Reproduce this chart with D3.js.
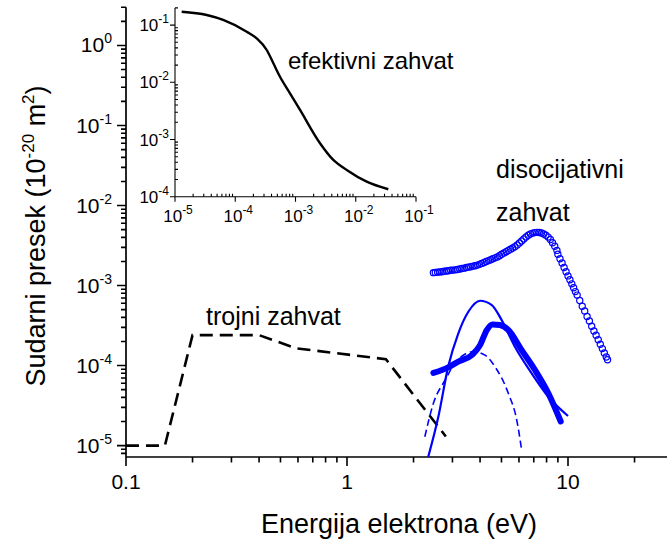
<html>
<head>
<meta charset="utf-8">
<title>Sudarni presek</title>
<script src="https://d3js.org/d3.v7.min.js"></script>
<style>
  body { margin: 0; background: #fff; }
  svg { font-family: "Liberation Sans", Arial, sans-serif; }
</style>
</head>
<body>
<div id="chart"></div>
<script>
// trojni zahvat (dashed black)
var trojniE = [0.1, 0.15, 0.2, 0.4, 0.59, 1.5, 2.8];
var trojniS = [1e-5, 1e-5, 2.4e-4, 2.4e-4, 1.64e-4, 1.2e-4, 1.3e-5];

// disocijativni zahvat - open circles
var disE = [2.46,2.51,2.57,2.63,2.69,2.75,2.82,2.88,2.95,3.02,3.09,3.16,3.24,3.31,3.39,3.47,3.55,3.63,3.72,3.80,
  3.89,3.98,4.07,4.17,4.27,4.37,4.47,4.57,4.68,4.79,4.90,5.01,5.13,5.25,5.37,5.50,5.62,5.75,5.89,6.03,
  6.17,6.31,6.46,6.61,6.76,6.92,7.08,7.24,7.41,7.59,7.76,7.94,8.13,8.32,8.51,8.71,8.91,
  9.0,9.2,9.4,9.6,9.8,10.0,10.2,10.4,10.6,10.8,11.0,11.3,11.6,11.9,12.2,12.5,12.8,13.1,13.4,13.7,14.0,14.3,14.6,14.9,15.1];
var disS = [1.45e-3,1.46e-3,1.47e-3,1.48e-3,1.49e-3,1.51e-3,1.52e-3,1.53e-3,1.55e-3,1.56e-3,1.57e-3,1.59e-3,1.61e-3,1.63e-3,1.65e-3,1.68e-3,1.70e-3,1.72e-3,1.75e-3,1.77e-3,
  1.80e-3,1.84e-3,1.89e-3,1.94e-3,2.00e-3,2.05e-3,2.10e-3,2.16e-3,2.22e-3,2.28e-3,2.36e-3,2.46e-3,2.55e-3,2.64e-3,2.75e-3,2.85e-3,2.95e-3,3.06e-3,3.22e-3,3.41e-3,
  3.61e-3,3.82e-3,4.04e-3,4.25e-3,4.41e-3,4.52e-3,4.59e-3,4.62e-3,4.61e-3,4.54e-3,4.42e-3,4.25e-3,4.03e-3,3.76e-3,3.43e-3,3.1e-3,2.75e-3,
  2.46e-3,2.16e-3,1.91e-3,1.68e-3,1.49e-3,1.32e-3,1.18e-3,1.05e-3,9.4e-4,8.4e-4,7.6e-4,6.5e-4,5.5e-4,4.8e-4,4.1e-4,3.6e-4,3.1e-4,2.7e-4,2.4e-4,2.1e-4,1.85e-4,1.63e-4,1.44e-4,1.28e-4,1.18e-4];

// thick blue curve
var thickE = [2.46, 2.87, 3.19, 3.67, 4.0, 4.29, 4.55, 4.92, 5.37, 6.17, 7.09, 8.15, 9.27];
var thickS = [8.1e-5, 9.5e-5, 1.12e-4, 1.35e-4, 1.8e-4, 2.78e-4, 3.27e-4, 3.21e-4, 2.78e-4, 1.56e-4, 8.8e-5, 4.5e-5, 2.0e-5];

// thin solid blue curve
var solE = [2.33, 2.59, 2.87, 3.19, 3.54, 4.0, 4.52, 5.01, 5.75, 6.85, 8.15, 10.0];
var solS = [7.2e-6, 2.29e-5, 9.7e-5, 2.53e-4, 4.7e-4, 6.46e-4, 5.7e-4, 3.7e-4, 1.72e-4, 8.0e-5, 4.07e-5, 2.34e-5];

// thin dashed blue curve
var dashE = [2.25, 2.46, 2.78, 3.08, 3.73, 4.21, 4.67, 5.37, 5.86, 6.17];
var dashS = [1.29e-5, 3.37e-5, 6.6e-5, 1.07e-4, 1.49e-4, 1.35e-4, 9.7e-5, 4.5e-5, 2.1e-5, 8.8e-6];

// inset: efektivni zahvat
var efE = [1.29e-5, 3.36e-5, 6.3e-5, 1.55e-4, 2.27e-4, 3.33e-4, 4.29e-4, 5.53e-4, 8.1e-4, 1.19e-3, 2.55e-3, 4.24e-3, 7.08e-3, 1.52e-2, 3.47e-2];
var efS = [0.171, 0.150, 0.123, 0.0767, 0.0587, 0.0367, 0.0215, 0.0125, 6.43e-3, 3.28e-3, 8.6e-4, 4.39e-4, 2.93e-4, 1.83e-4, 1.35e-4];

var mainXTicks = [0.1, 1, 10];
var mainXLabels = ["0.1", "1", "10"];
var mainYTicks = [1e-5, 1e-4, 1e-3, 1e-2, 1e-1, 1];
var mainYExp = ["-5", "-4", "-3", "-2", "-1", "0"];
var insXTicks = [1e-5, 1e-4, 1e-3, 1e-2, 1e-1];
var insXExp = ["-5", "-4", "-3", "-2", "-1"];
var insYTicks = [1e-4, 1e-3, 1e-2, 1e-1];
var insYExp = ["-4", "-3", "-2", "-1"];

var W = 667, H = 543;
var blue = "#0000ff";

var svg = d3.select("#chart").append("svg")
    .attr("width", W).attr("height", H)
    .style("display", "block");

var x = d3.scaleLog().domain([0.1, 30]).range([126, 126 + 221 * Math.log10(300)]);
var y = d3.scaleLog().domain([7.2e-6, 3]).range([457, 7.3]);

function minorTicks(lo, hi) {
    var out = [];
    for (var e = Math.floor(Math.log10(lo)); e <= Math.ceil(Math.log10(hi)); e++) {
        for (var k = 2; k <= 9; k++) {
            var v = k * Math.pow(10, e);
            if (v >= lo && v <= hi) out.push(v);
        }
    }
    return out;
}

// axis line + ticks as one path each; len > 0 points outward (down / left)
function hAxis(scale, y0, x1, minors, majors, minLen, majLen, tw, aw) {
    var g = svg.append("g");
    g.append("path").attr("d", "M" + scale.range()[0] + "," + y0 + "H" + x1)
        .attr("fill", "none").attr("stroke", "#000").attr("stroke-width", aw);
    var d = minors.map(function (v) { return "M" + scale(v).toFixed(2) + "," + y0 + "v" + minLen; }).join("") +
            majors.map(function (v) { return "M" + scale(v).toFixed(2) + "," + y0 + "v" + majLen; }).join("");
    g.append("path").attr("d", d).attr("fill", "none").attr("stroke", "#000").attr("stroke-width", tw);
}
function vAxis(scale, x0, minors, majors, minLen, majLen, tw, aw) {
    var g = svg.append("g");
    g.append("path").attr("d", "M" + x0 + "," + scale.range()[0] + "V" + scale.range()[1])
        .attr("fill", "none").attr("stroke", "#000").attr("stroke-width", aw);
    var d = minors.map(function (v) { return "M" + x0 + "," + scale(v).toFixed(2) + "h" + (-minLen); }).join("") +
            majors.map(function (v) { return "M" + x0 + "," + scale(v).toFixed(2) + "h" + (-majLen); }).join("");
    g.append("path").attr("d", d).attr("fill", "none").attr("stroke", "#000").attr("stroke-width", tw);
}

svg.append("defs").append("clipPath").attr("id", "plot")
  .append("rect").attr("x", 126).attr("y", 0).attr("width", W - 126).attr("height", 457);

// ---- main axes ----
hAxis(x, 457, W, minorTicks(0.1, 30), mainXTicks, 5.5, 9, 1.6, 1.7);
vAxis(y, 126, minorTicks(7.2e-6, 3), mainYTicks, 5, 9, 1.6, 1.7);

svg.selectAll(".xl").data(mainXTicks).enter().append("text")
    .attr("x", function (d) { return x(d); }).attr("y", 489)
    .attr("text-anchor", "middle").attr("font-size", 21)
    .text(function (d, i) { return mainXLabels[i]; });

var yl = svg.selectAll(".yl").data(mainYTicks).enter().append("text")
    .attr("x", 112).attr("y", function (d) { return y(d) + 7; })
    .attr("text-anchor", "end").attr("font-size", 21);
yl.append("tspan").text("10");
yl.append("tspan").attr("dy", -9).attr("font-size", 14).text(function (d, i) { return mainYExp[i]; });

svg.append("text").attr("x", 399).attr("y", 533).attr("text-anchor", "middle")
    .attr("font-size", 27).text("Energija elektrona (eV)");

var yt = svg.append("text").attr("transform", "translate(45,236) rotate(-90)")
    .attr("text-anchor", "middle").attr("font-size", 27);
yt.append("tspan").text("Sudarni presek (10");
yt.append("tspan").attr("dy", -11).attr("font-size", 17).text("-20");
yt.append("tspan").attr("dy", 11).text(" m");
yt.append("tspan").attr("dy", -11).attr("font-size", 17).text("2");
yt.append("tspan").attr("dy", 11).text(")");

// ---- main series ----
var plot = svg.append("g").attr("clip-path", "url(#plot)");

function pts(E, S) { return E.map(function (e, i) { return [e, S[i]]; }); }
var line = d3.line().x(function (d) { return x(d[0]); }).y(function (d) { return y(d[1]); });
var smooth = d3.line().x(function (d) { return x(d[0]); }).y(function (d) { return y(d[1]); }).curve(d3.curveMonotoneX);

plot.append("path").datum(pts(trojniE, trojniS)).attr("d", line)
    .attr("fill", "none").attr("stroke", "#000").attr("stroke-width", 2.6)
    .attr("stroke-dasharray", "13,7");

plot.append("path").datum(pts(dashE, dashS)).attr("d", smooth)
    .attr("fill", "none").attr("stroke", blue).attr("stroke-width", 1.6)
    .attr("stroke-dasharray", "7,4");

plot.append("path").datum(pts(solE, solS)).attr("d", smooth)
    .attr("fill", "none").attr("stroke", blue).attr("stroke-width", 2.2);

plot.append("path").datum(pts(thickE, thickS)).attr("d", smooth)
    .attr("fill", "none").attr("stroke", blue).attr("stroke-width", 6)
    .attr("stroke-linecap", "round").attr("stroke-linejoin", "round");

plot.selectAll(".dis").data(pts(disE, disS)).enter().append("circle")
    .attr("cx", function (d) { return x(d[0]); }).attr("cy", function (d) { return y(d[1]); })
    .attr("r", 3.1).attr("fill", "none").attr("stroke", blue).attr("stroke-width", 1.2);

// ---- labels ----
svg.append("text").attr("x", 206).attr("y", 325).attr("font-size", 25).text("trojni zahvat");
svg.append("text").attr("x", 496).attr("y", 178).attr("font-size", 25).text("disocijativni");
svg.append("text").attr("x", 496).attr("y", 221).attr("font-size", 25).text("zahvat");

// ---- inset ----
var ix = d3.scaleLog().domain([1e-5, 1e-1]).range([175, 416]);
var iy = d3.scaleLog().domain([1e-4, 0.2]).range([196.7, 196.7 - 57.2 * Math.log10(2000)]);

hAxis(ix, 196.7, 416, minorTicks(1e-5, 1e-1), insXTicks, -3, 5, 1.1, 1.1);
vAxis(iy, 175, minorTicks(1e-4, 0.2), insYTicks, -3, 5, 1.1, 1.1);

var ixl = svg.selectAll(".ixl").data(insXTicks).enter().append("text")
    .attr("x", function (d) { return ix(d) + 3; }).attr("y", 222)
    .attr("text-anchor", "middle").attr("font-size", 17);
ixl.append("tspan").text("10");
ixl.append("tspan").attr("dy", -8).attr("font-size", 12).text(function (d, i) { return insXExp[i]; });

var iyl = svg.selectAll(".iyl").data(insYTicks).enter().append("text")
    .attr("x", 169).attr("y", function (d) { return iy(d) + 6; })
    .attr("text-anchor", "end").attr("font-size", 17);
iyl.append("tspan").text("10");
iyl.append("tspan").attr("dy", -8).attr("font-size", 12).text(function (d, i) { return insYExp[i]; });

svg.append("path").datum(pts(efE, efS))
    .attr("d", d3.line().x(function (d) { return ix(d[0]); }).y(function (d) { return iy(d[1]); }).curve(d3.curveMonotoneX))
    .attr("fill", "none").attr("stroke", "#000").attr("stroke-width", 2.4);

svg.append("text").attr("x", 288).attr("y", 69).attr("font-size", 24).text("efektivni zahvat");
</script>
</body>
</html>
